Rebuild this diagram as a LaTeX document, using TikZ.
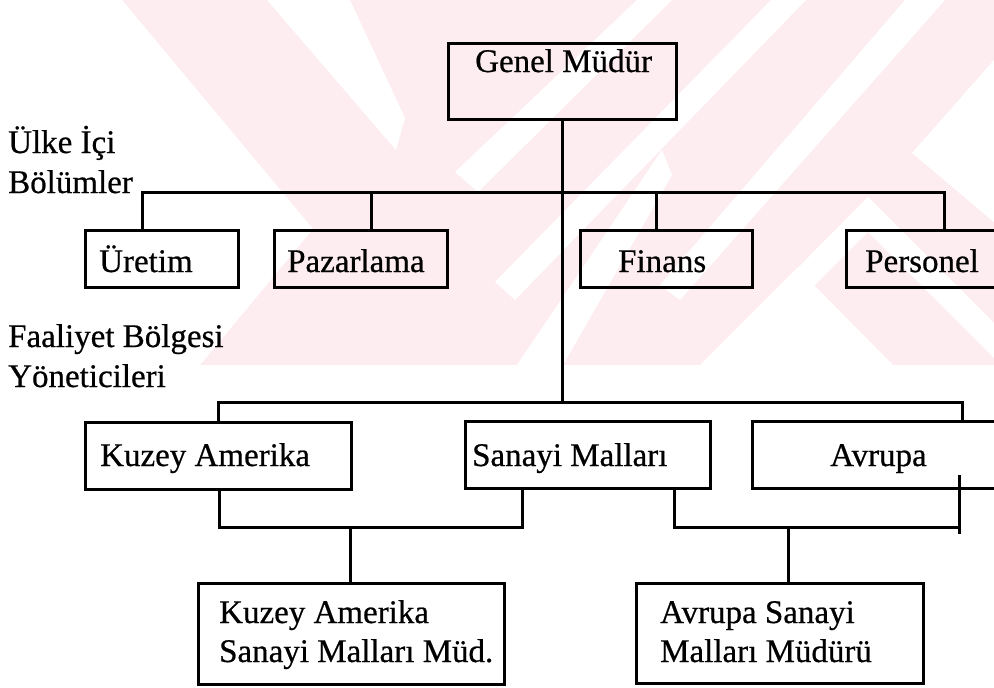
\documentclass[tikz,border=0pt]{standalone}
\usepackage{fontspec}
\setmainfont{Liberation Serif}
\newfontfamily\lblfont{Liberation Serif}[FakeBold=0.6]
\usetikzlibrary{calc}
\definecolor{wm}{RGB}{253,237,240}
\tikzset{
  box/.style={draw, line width=3pt, outer sep=0pt, inner sep=0pt, anchor=north west},
  lbl/.style={anchor=base west, inner sep=0pt, font=\lblfont\fontsize{33}{39}\selectfont},
  side/.style={anchor=base west, inner sep=0pt, font=\lblfont\fontsize{33}{40}\selectfont},
  conn/.style={line width=3pt, line join=miter},
}
\begin{document}
\begin{tikzpicture}[x=1pt,y=-1pt]
\useasboundingbox (0,0) rectangle (994,688);
\clip (0,0) rectangle (994,688);
% watermark
\fill[wm] (0,0) rectangle (994,365);
\fill[white] (0,0) -- (122,0) -- (313,229) -- (200,365) -- (0,365) -- cycle;
\fill[white] (267,0) -- (350,0) -- (405,118) -- (396,150) -- cycle;
\fill[white] (637,0) -- (672,0) -- (478,192) -- (455,172) -- cycle;
\fill[white] (771,0) -- (806,0) -- (515,300) -- (495,282) -- cycle;
\fill[white] (905,0) -- (945,0) -- (680,300) -- (660,285) -- cycle;
\fill[white] (662,150) -- (672,175) -- (563,365) -- (517,365) -- cycle;
\fill[white] (994,60) -- (912,153) -- (994,222) -- cycle;
\fill[white] (797,268) -- (700,365) -- (893,365) -- cycle;
\fill[white] (868,197) -- (994,323) -- (994,358) -- (868,232) -- (765,335) -- (748,318) -- cycle;

% boxes
\node[box, minimum width=228pt, minimum height=76pt] (gm) at (448,43) {};
\node[box, minimum width=153pt, minimum height=57pt] (ur) at (85,230) {};
\node[box, minimum width=173pt, minimum height=57pt] (pz) at (274,230) {};
\node[box, minimum width=172pt, minimum height=57pt] (fn) at (580,230) {};
\node[box, minimum width=170pt, minimum height=57pt] (ps) at (846,230) {};
\node[box, minimum width=266pt, minimum height=67pt] (ka) at (85,422) {};
\node[box, minimum width=245pt, minimum height=67pt] (sm) at (465,421) {};
\node[box, minimum width=260pt, minimum height=67pt] (av) at (752,421) {};
\node[box, minimum width=306pt, minimum height=101pt] (kas) at (198,583) {};
\node[box, minimum width=287pt, minimum height=100pt] (avs) at (636,583) {};

% texts
\node[lbl] (gmt) at (475,72) {Genel Müdür};
\node[lbl] (urt) at (99,272) {Üretim};
\node[lbl] (pzt) at (287,272) {Pazarlama};
\node[lbl] (fnt) at (618,272) {Finans};
\node[lbl] (pst) at (865,272) {Personel};
\node[lbl] (kat) at (100,466) {Kuzey Amerika};
\node[lbl] (smt) at (472,466) {Sanayi Malları};
\node[lbl] (avt) at (830,466) {Avrupa};
\node[lbl] (kast) at (219,623) {\begin{tabular}[t]{@{}l@{}}Kuzey Amerika\\Sanayi Malları Müd.\end{tabular}};
\node[lbl] (avst) at (660,623) {\begin{tabular}[t]{@{}l@{}}Avrupa Sanayi\\Malları Müdürü\end{tabular}};
\node[side] (ulke) at (8,153) {\begin{tabular}[t]{@{}l@{}}Ülke İçi\\Bölümler\end{tabular}};
\node[side] (faal) at (8,347) {\begin{tabular}[t]{@{}l@{}}Faaliyet Bölgesi\\Yöneticileri\end{tabular}};

% connector coordinates
\coordinate (h1L) at (142,192);
\coordinate (h1R) at (944,192);
\coordinate (d2) at (371,192);
\coordinate (d3) at (656,192);
\coordinate (h2L) at (218,402);
\coordinate (h2R) at (962,402);
\coordinate (l1) at (219,527);
\coordinate (l2) at (522,527);
\coordinate (l3) at (350,527);
\coordinate (r1) at (674,527);
\coordinate (r2) at (959,527);
\coordinate (r3) at (959,475);
\coordinate (r4) at (959,534);
\coordinate (r5) at (788,527);

% connectors
\draw[conn] (gm.south) -- (gm.south |- h2L);
\draw[conn] (h1L |- ur.north) -- (h1L) -- (h1R) -- (h1R |- ps.north);
\draw[conn] (d2) -- (d2 |- pz.north);
\draw[conn] (d3) -- (d3 |- fn.north);
\draw[conn] (h2L |- ka.north) -- (h2L) -- (h2R) -- (h2R |- av.north);
\draw[conn] (l1 |- ka.south) -- (l1) -- (l2) -- (l2 |- sm.south);
\draw[conn] (l3) -- (l3 |- kas.north);
\draw[conn] (r1 |- sm.south) -- (r1) -- (r2);
\draw[conn] (r3) -- (r4);
\draw[conn] (r5) -- (r5 |- avs.north);
\end{tikzpicture}
\end{document}
